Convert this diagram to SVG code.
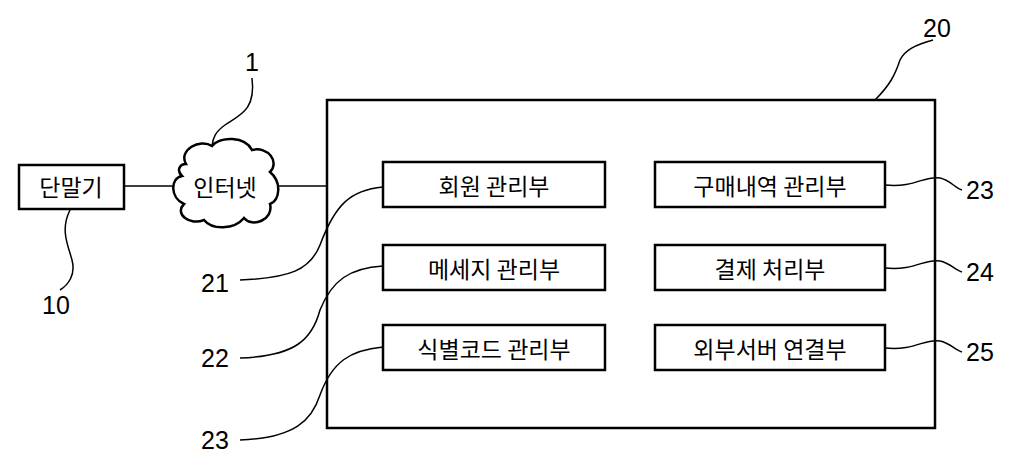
<svg xmlns="http://www.w3.org/2000/svg" width="1024" height="472" viewBox="0 0 1024 472">
<style>
.b{fill:#fff;stroke:#000;stroke-width:2.5}
.l{fill:none;stroke:#000;stroke-width:1.5}
.t{font-family:"Noto Sans CJK KR","Liberation Sans",sans-serif;font-size:23px;text-anchor:middle;dominant-baseline:central}
.n{font-family:"Liberation Sans",sans-serif;font-size:25px;text-anchor:middle;dominant-baseline:central}
</style>
<rect width="1024" height="472" fill="#fff"/>
<g id="n20"><rect class="b" style="fill:none" x="327" y="100" width="608" height="328"/></g>
<g id="connectors">
<line class="l" x1="124" y1="186" x2="174" y2="186"/>
<line class="l" x1="278" y1="186" x2="327" y2="186"/>
<path class="l" d="M252,78 C256,110 240,115 225,125 C215,132 213,138 212,146"/>
<path class="l" d="M70,210 C60,230 68,245 72,260 C76,275 68,285 60,290"/>
<path class="l" d="M933,40 C915,45 905,50 900,60 C895,75 890,85 875,100"/>
<path class="l" d="M240,280 C290,278 310,270 320,245 C335,205 350,190 383,187"/>
<path class="l" d="M240,358 C295,356 312,340 320,310 C332,280 350,268 383,266"/>
<path class="l" d="M240,440 C295,438 312,420 320,395 C332,362 350,350 383,347"/>
<path class="l" d="M885,185 C915,188 925,175 940,178 C950,180 955,188 962,190"/>
<path class="l" d="M885,268 C915,271 925,258 940,261 C950,263 955,270 962,272"/>
<path class="l" d="M885,348 C915,351 925,338 940,341 C950,343 955,350 962,352"/>
</g>
<g id="n10"><rect class="b" x="19" y="165" width="105" height="44"/><text class="t" x="71" y="186">단말기</text></g>
<g id="n1"><path class="b" stroke-width="1.8" d="M186,164 C178,150 200,138 212,146 C220,136 245,136 252,150 C268,146 280,162 270,172 C282,182 280,200 270,204 C274,220 252,228 244,218 C234,230 212,230 204,220 C190,226 174,214 184,204 C170,198 170,178 182,176 C176,170 180,164 186,164 Z"/><text class="t" x="225" y="186">인터넷</text></g>
<g id="n21"><rect class="b" x="383" y="162" width="222" height="45"/><text class="t" x="494" y="185">회원 관리부</text></g>
<g id="n22"><rect class="b" x="383" y="245" width="222" height="45"/><text class="t" x="494" y="268">메세지 관리부</text></g>
<g id="n23a"><rect class="b" x="383" y="325" width="222" height="45"/><text class="t" x="494" y="348">식별코드 관리부</text></g>
<g id="n23b"><rect class="b" x="655" y="162" width="230" height="45"/><text class="t" x="770" y="185">구매내역 관리부</text></g>
<g id="n24"><rect class="b" x="655" y="245" width="230" height="45"/><text class="t" x="770" y="268">결제 처리부</text></g>
<g id="n25"><rect class="b" x="655" y="325" width="230" height="45"/><text class="t" x="770" y="348">외부서버 연결부</text></g>
<g id="labels">
<text class="n" x="252" y="62">1</text>
<text class="n" x="56" y="305">10</text>
<text class="n" x="937" y="28">20</text>
<text class="n" x="215" y="283">21</text>
<text class="n" x="215" y="358">22</text>
<text class="n" x="215" y="440">23</text>
<text class="n" x="980" y="190">23</text>
<text class="n" x="980" y="272">24</text>
<text class="n" x="980" y="352">25</text>
</g>
</svg>
